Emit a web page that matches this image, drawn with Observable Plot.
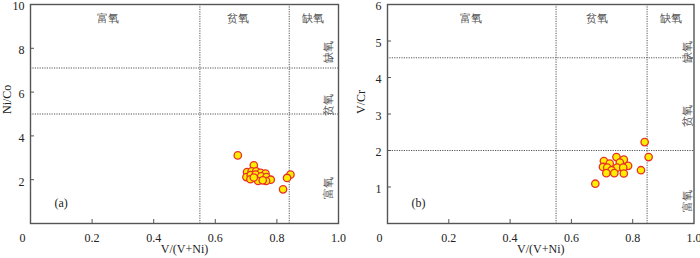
<!DOCTYPE html>
<html>
<head>
<meta charset="utf-8">
<script src="https://cdn.jsdelivr.net/npm/d3@7"></script>
<script src="https://cdn.jsdelivr.net/npm/@observablehq/plot@0.6"></script>
<style>
  html, body { margin: 0; padding: 0; background: #fff; }
  #wrap { display: flex; width: 700px; height: 258px; }
  svg { display: block; }
  svg text { font-family: 'Liberation Serif', 'DejaVu Serif', serif; }
</style>
</head>
<body>
<div id="wrap"></div>
<script>
// ---------- data ----------
// Panel (a): V/(V+Ni) vs Ni/Co
const aX = [0.673,0.725,0.703,0.718,0.733,0.747,0.763,0.701,0.715,0.731,0.749,0.766,0.780,0.714,0.739,0.765,0.725,0.754,0.844,0.833,0.820];
const aY = [3.11,2.66,2.35,2.38,2.38,2.31,2.28,2.12,2.21,2.23,2.15,2.12,2.00,2.02,1.94,1.94,2.10,1.97,2.23,2.08,1.56];
// Panel (b): V/(V+Ni) vs V/Cr
const bX = [0.839,0.852,0.827,0.678,0.706,0.725,0.747,0.771,0.758,0.785,0.703,0.717,0.749,0.769,0.731,0.714,0.740,0.771];
const bY = [2.23,1.82,1.46,1.09,1.71,1.64,1.82,1.75,1.67,1.58,1.55,1.53,1.53,1.53,1.46,1.38,1.38,1.37];

const xTicks = [0.2, 0.4, 0.6, 0.8, 1.0];
const aYTicks = [2, 4, 6, 8, 10];
const bYTicks = [1, 2, 3, 4, 5, 6];

const aVLines = [0.55, 0.84];
const aHLines = [5, 7.1];
const bVLines = [0.55, 0.847];
const bHLines = [2, 4.54];

const zoneNames = ["富氧", "贫氧", "缺氧"];
const aTopX = [0.253, 0.673, 0.917];
const bTopX = [0.274, 0.684, 0.926];
const aSideY = [2.11, 5.93, 8.35];
const bSideY = [0.91, 3.24, 5.01];

const xLabel = "V/(V+Ni)";
const aYLabel = "Ni/Co";
const bYLabel = "V/Cr";
const panelTags = ["(a)", "(b)"];

// ---------- drawing ----------
const SERIF = "Liberation Serif";
const CJK = "Noto Sans CJK SC";
const GRID = "#555";
const TXT = "#222";

function panel({xs, ys, yMax, yTicks, vLines, hLines, topX, sideY, sideX, yLabel, tag, mLeft, mRight, yLabelDx}) {
  const pts = xs.map((x, i) => ({x, y: ys[i]}));
  const innerW = 350 - mLeft - mRight;
  const innerH = 258 - 4 - 35;
  return Plot.plot({
    width: 350,
    height: 258,
    marginLeft: mLeft,
    marginRight: mRight,
    marginTop: 4,
    marginBottom: 35,
    style: {fontFamily: SERIF, fontSize: "12px", color: TXT, background: "white"},
    x: {domain: [0, 1]},
    y: {domain: [0, yMax]},
    marks: [
      Plot.ruleX(vLines, {stroke: GRID, strokeDasharray: "1.2,1.2", strokeWidth: 1}),
      Plot.ruleY(hLines, {stroke: GRID, strokeDasharray: "1.2,1.2", strokeWidth: 1}),
      Plot.frame({stroke: "#555", strokeWidth: 1.4}),
      // inward ticks
      Plot.tickX(xTicks.filter(d => d < 1), {x: d => d, stroke: "#555", insetTop: innerH - 4}),
      Plot.tickY(yTicks.filter(d => d < yMax), {y: d => d, stroke: "#555", insetRight: innerW - 4}),
      // axis labels
      Plot.axisX(xTicks, {tickSize: 0, tickPadding: 10, tickFormat: d3.format(".1f"), label: null, fontFamily: SERIF, fontSize: 12, fill: TXT}),
      Plot.axisY(yTicks, {tickSize: 0, tickPadding: 6, tickFormat: d => String(d), label: null, fontFamily: SERIF, fontSize: 12, fill: TXT, dy: 2}),
      Plot.text(["0"], {x: 0, y: 0, dx: -8, dy: 15, fontFamily: SERIF, fontSize: 12, fill: TXT}),
      Plot.text([xLabel], {frameAnchor: "bottom", dy: 29, fontFamily: SERIF, fontSize: 12, fill: TXT}),
      Plot.text([yLabel], {frameAnchor: "left", rotate: -90, dx: yLabelDx, fontFamily: SERIF, fontSize: 12, fill: TXT}),
      Plot.text([tag], {frameAnchor: "bottom-left", dx: 24, dy: -17, fontFamily: SERIF, fontSize: 12, fill: TXT}),
      // zone labels
      Plot.text(zoneNames, {x: (d, i) => topX[i], frameAnchor: "top", dy: 10, fontFamily: CJK, fontSize: 11, fill: "#555"}),
      Plot.text(zoneNames, {y: (d, i) => sideY[i], frameAnchor: "right", dx: sideX, rotate: -90, fontFamily: CJK, fontSize: 11, fill: "#555"}),
      // points
      Plot.dot(pts, {x: "x", y: "y", r: 3.7, fill: "#ffee00", stroke: "#e8302a", strokeWidth: 1.3})
    ]
  });
}

const wrap = document.getElementById("wrap");
wrap.appendChild(panel({
  xs: aX, ys: aY, yMax: 10, yTicks: aYTicks, vLines: aVLines, hLines: aHLines,
  topX: aTopX, sideY: aSideY, sideX: -10, yLabel: aYLabel, tag: panelTags[0],
  mLeft: 30, mRight: 12, yLabelDx: -23
}));
wrap.appendChild(panel({
  xs: bX, ys: bY, yMax: 6, yTicks: bYTicks, vLines: bVLines, hLines: bHLines,
  topX: bTopX, sideY: bSideY, sideX: -7, yLabel: bYLabel, tag: panelTags[1],
  mLeft: 37, mRight: 6.5, yLabelDx: -26
}));
</script>
</body>
</html>
